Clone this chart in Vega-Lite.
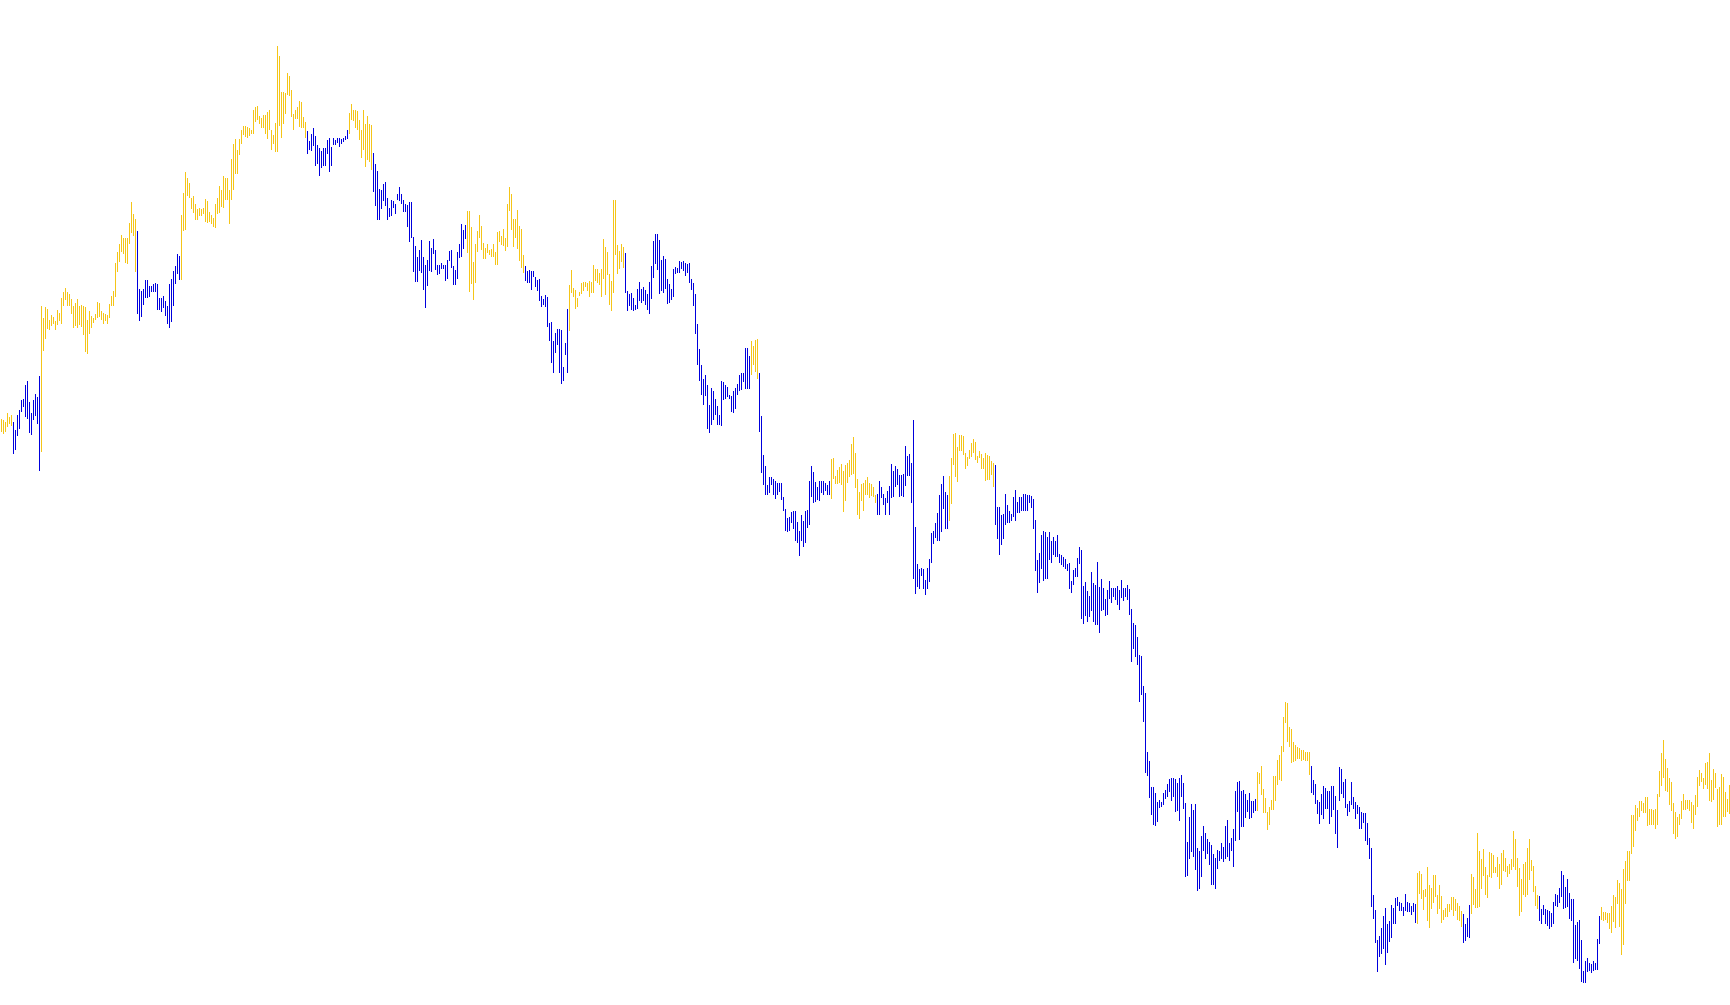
{"$schema":"https://vega.github.io/schema/vega-lite/v6.json","width":1730,"height":1005,"autosize":{"type":"fit","contains":"padding"},"padding":0,"background":"white","config":{"view":{"stroke":null}},
"data":{"values":[
{"i":0,"h":586,"l":573,"t":"u"},{"i":1,"h":585,"l":571,"t":"u"},{"i":2,"h":583,"l":573,"t":"u"},{"i":3,"h":592,"l":578,"t":"u"},{"i":4,"h":588,"l":581,"t":"u"},{"i":5,"h":590,"l":579,"t":"u"},{"i":6,"h":583,"l":551,"t":"d"},{"i":7,"h":575,"l":555,"t":"d"},{"i":8,"h":590,"l":569,"t":"d"},{"i":9,"h":595,"l":576,"t":"d"},
{"i":10,"h":605,"l":593,"t":"d"},{"i":11,"h":606,"l":598,"t":"d"},{"i":12,"h":620,"l":588,"t":"d"},{"i":13,"h":624,"l":586,"t":"d"},{"i":14,"h":603,"l":572,"t":"d"},{"i":15,"h":592,"l":570,"t":"d"},{"i":16,"h":605,"l":585,"t":"d"},{"i":17,"h":611,"l":589,"t":"d"},{"i":18,"h":608,"l":581,"t":"d"},{"i":19,"h":629,"l":534,"t":"d"},
{"i":20,"h":699,"l":553,"t":"u"},{"i":21,"h":687,"l":654,"t":"u"},{"i":22,"h":698,"l":666,"t":"u"},{"i":23,"h":696,"l":676,"t":"u"},{"i":24,"h":685,"l":675,"t":"u"},{"i":25,"h":690,"l":679,"t":"u"},{"i":26,"h":688,"l":681,"t":"u"},{"i":27,"h":684,"l":675,"t":"u"},{"i":28,"h":695,"l":680,"t":"u"},{"i":29,"h":692,"l":684,"t":"u"},
{"i":30,"h":707,"l":681,"t":"u"},{"i":31,"h":713,"l":699,"t":"u"},{"i":32,"h":717,"l":705,"t":"u"},{"i":33,"h":713,"l":699,"t":"u"},{"i":34,"h":711,"l":699,"t":"u"},{"i":35,"h":706,"l":691,"t":"u"},{"i":36,"h":699,"l":677,"t":"u"},{"i":37,"h":702,"l":679,"t":"u"},{"i":38,"h":706,"l":677,"t":"u"},{"i":39,"h":699,"l":680,"t":"u"},
{"i":40,"h":700,"l":678,"t":"u"},{"i":41,"h":699,"l":670,"t":"u"},{"i":42,"h":698,"l":653,"t":"u"},{"i":43,"h":685,"l":651,"t":"u"},{"i":44,"h":694,"l":671,"t":"u"},{"i":45,"h":689,"l":677,"t":"u"},{"i":46,"h":687,"l":682,"t":"u"},{"i":47,"h":691,"l":685,"t":"u"},{"i":48,"h":703,"l":687,"t":"u"},{"i":49,"h":702,"l":688,"t":"u"},
{"i":50,"h":694,"l":685,"t":"u"},{"i":51,"h":692,"l":681,"t":"u"},{"i":52,"h":691,"l":684,"t":"u"},{"i":53,"h":690,"l":681,"t":"u"},{"i":54,"h":701,"l":687,"t":"u"},{"i":55,"h":709,"l":699,"t":"u"},{"i":56,"h":714,"l":699,"t":"u"},{"i":57,"h":742,"l":708,"t":"u"},{"i":58,"h":753,"l":733,"t":"u"},{"i":59,"h":761,"l":743,"t":"u"},
{"i":60,"h":770,"l":753,"t":"u"},{"i":61,"h":767,"l":751,"t":"u"},{"i":62,"h":767,"l":742,"t":"u"},{"i":63,"h":767,"l":741,"t":"u"},{"i":64,"h":782,"l":761,"t":"u"},{"i":65,"h":803,"l":772,"t":"u"},{"i":66,"h":791,"l":769,"t":"u"},{"i":67,"h":786,"l":733,"t":"u"},{"i":68,"h":774,"l":691,"t":"d"},{"i":69,"h":716,"l":684,"t":"d"},
{"i":70,"h":714,"l":688,"t":"d"},{"i":71,"h":716,"l":700,"t":"d"},{"i":72,"h":725,"l":707,"t":"d"},{"i":73,"h":725,"l":707,"t":"d"},{"i":74,"h":719,"l":708,"t":"d"},{"i":75,"h":719,"l":713,"t":"d"},{"i":76,"h":721,"l":713,"t":"d"},{"i":77,"h":722,"l":713,"t":"d"},{"i":78,"h":721,"l":695,"t":"d"},{"i":79,"h":707,"l":695,"t":"d"},
{"i":80,"h":707,"l":693,"t":"d"},{"i":81,"h":709,"l":697,"t":"d"},{"i":82,"h":704,"l":689,"t":"d"},{"i":83,"h":699,"l":681,"t":"d"},{"i":84,"h":721,"l":677,"t":"d"},{"i":85,"h":726,"l":683,"t":"d"},{"i":86,"h":734,"l":699,"t":"d"},{"i":87,"h":739,"l":721,"t":"d"},{"i":88,"h":751,"l":731,"t":"d"},{"i":89,"h":749,"l":725,"t":"d"},
{"i":90,"h":790,"l":725,"t":"u"},{"i":91,"h":812,"l":774,"t":"u"},{"i":92,"h":833,"l":775,"t":"u"},{"i":93,"h":827,"l":809,"t":"u"},{"i":94,"h":822,"l":807,"t":"u"},{"i":95,"h":807,"l":796,"t":"u"},{"i":96,"h":809,"l":792,"t":"u"},{"i":97,"h":801,"l":785,"t":"u"},{"i":98,"h":796,"l":785,"t":"u"},{"i":99,"h":797,"l":789,"t":"u"},
{"i":100,"h":796,"l":789,"t":"u"},{"i":101,"h":797,"l":791,"t":"u"},{"i":102,"h":806,"l":783,"t":"u"},{"i":103,"h":804,"l":782,"t":"u"},{"i":104,"h":793,"l":783,"t":"u"},{"i":105,"h":790,"l":781,"t":"u"},{"i":106,"h":787,"l":778,"t":"u"},{"i":107,"h":801,"l":777,"t":"u"},{"i":108,"h":807,"l":791,"t":"u"},{"i":109,"h":819,"l":792,"t":"u"},
{"i":110,"h":815,"l":798,"t":"u"},{"i":111,"h":829,"l":797,"t":"u"},{"i":112,"h":827,"l":805,"t":"u"},{"i":113,"h":827,"l":805,"t":"u"},{"i":114,"h":815,"l":781,"t":"u"},{"i":115,"h":846,"l":805,"t":"u"},{"i":116,"h":861,"l":815,"t":"u"},{"i":117,"h":866,"l":831,"t":"u"},{"i":118,"h":855,"l":831,"t":"u"},{"i":119,"h":866,"l":850,"t":"u"},
{"i":120,"h":875,"l":861,"t":"u"},{"i":121,"h":879,"l":870,"t":"u"},{"i":122,"h":879,"l":868,"t":"u"},{"i":123,"h":878,"l":867,"t":"u"},{"i":124,"h":877,"l":869,"t":"u"},{"i":125,"h":875,"l":871,"t":"u"},{"i":126,"h":895,"l":871,"t":"u"},{"i":127,"h":898,"l":883,"t":"u"},{"i":128,"h":899,"l":885,"t":"u"},{"i":129,"h":889,"l":881,"t":"u"},
{"i":130,"h":887,"l":877,"t":"u"},{"i":131,"h":890,"l":877,"t":"u"},{"i":132,"h":890,"l":871,"t":"u"},{"i":133,"h":893,"l":866,"t":"u"},{"i":134,"h":895,"l":875,"t":"u"},{"i":135,"h":875,"l":855,"t":"u"},{"i":136,"h":870,"l":861,"t":"u"},{"i":137,"h":882,"l":853,"t":"u"},{"i":138,"h":959,"l":853,"t":"u"},{"i":139,"h":949,"l":879,"t":"u"},
{"i":140,"h":913,"l":867,"t":"u"},{"i":141,"h":913,"l":881,"t":"u"},{"i":142,"h":912,"l":891,"t":"u"},{"i":143,"h":932,"l":910,"t":"u"},{"i":144,"h":929,"l":909,"t":"u"},{"i":145,"h":915,"l":888,"t":"u"},{"i":146,"h":891,"l":875,"t":"u"},{"i":147,"h":895,"l":886,"t":"u"},{"i":148,"h":898,"l":886,"t":"u"},{"i":149,"h":904,"l":878,"t":"u"},
{"i":150,"h":903,"l":877,"t":"u"},{"i":151,"h":888,"l":877,"t":"u"},{"i":152,"h":883,"l":867,"t":"u"},{"i":153,"h":874,"l":851,"t":"d"},{"i":154,"h":864,"l":855,"t":"d"},{"i":155,"h":871,"l":854,"t":"d"},{"i":156,"h":877,"l":859,"t":"d"},{"i":157,"h":869,"l":839,"t":"d"},{"i":158,"h":860,"l":841,"t":"d"},{"i":159,"h":857,"l":829,"t":"d"},
{"i":160,"h":854,"l":837,"t":"d"},{"i":161,"h":857,"l":839,"t":"d"},{"i":162,"h":857,"l":839,"t":"d"},{"i":163,"h":865,"l":851,"t":"d"},{"i":164,"h":867,"l":833,"t":"d"},{"i":165,"h":858,"l":839,"t":"d"},{"i":166,"h":867,"l":860,"t":"d"},{"i":167,"h":865,"l":860,"t":"d"},{"i":168,"h":867,"l":862,"t":"d"},{"i":169,"h":867,"l":858,"t":"d"},
{"i":170,"h":866,"l":861,"t":"d"},{"i":171,"h":867,"l":863,"t":"d"},{"i":172,"h":869,"l":865,"t":"d"},{"i":173,"h":875,"l":866,"t":"d"},{"i":174,"h":892,"l":871,"t":"u"},{"i":175,"h":901,"l":885,"t":"u"},{"i":176,"h":895,"l":884,"t":"u"},{"i":177,"h":895,"l":877,"t":"u"},{"i":178,"h":894,"l":875,"t":"u"},{"i":179,"h":885,"l":865,"t":"u"},
{"i":180,"h":875,"l":847,"t":"u"},{"i":181,"h":895,"l":855,"t":"u"},{"i":182,"h":881,"l":838,"t":"u"},{"i":183,"h":889,"l":845,"t":"u"},{"i":184,"h":881,"l":843,"t":"u"},{"i":185,"h":880,"l":835,"t":"u"},{"i":186,"h":852,"l":813,"t":"d"},{"i":187,"h":841,"l":799,"t":"d"},{"i":188,"h":834,"l":785,"t":"d"},{"i":189,"h":816,"l":785,"t":"d"},
{"i":190,"h":815,"l":796,"t":"d"},{"i":191,"h":821,"l":804,"t":"d"},{"i":192,"h":823,"l":799,"t":"d"},{"i":193,"h":807,"l":785,"t":"d"},{"i":194,"h":797,"l":788,"t":"d"},{"i":195,"h":805,"l":789,"t":"d"},{"i":196,"h":804,"l":797,"t":"d"},{"i":197,"h":801,"l":791,"t":"d"},{"i":198,"h":811,"l":805,"t":"d"},{"i":199,"h":818,"l":804,"t":"d"},
{"i":200,"h":811,"l":801,"t":"d"},{"i":201,"h":805,"l":793,"t":"d"},{"i":202,"h":801,"l":793,"t":"d"},{"i":203,"h":800,"l":778,"t":"d"},{"i":204,"h":803,"l":763,"t":"d"},{"i":205,"h":803,"l":767,"t":"d"},{"i":206,"h":768,"l":733,"t":"d"},{"i":207,"h":759,"l":723,"t":"d"},{"i":208,"h":748,"l":723,"t":"d"},{"i":209,"h":755,"l":734,"t":"d"},
{"i":210,"h":765,"l":732,"t":"d"},{"i":211,"h":748,"l":715,"t":"d"},{"i":212,"h":740,"l":697,"t":"d"},{"i":213,"h":745,"l":719,"t":"d"},{"i":214,"h":764,"l":734,"t":"d"},{"i":215,"h":757,"l":733,"t":"d"},{"i":216,"h":766,"l":751,"t":"d"},{"i":217,"h":755,"l":735,"t":"d"},{"i":218,"h":740,"l":730,"t":"d"},{"i":219,"h":740,"l":731,"t":"d"},
{"i":220,"h":742,"l":736,"t":"d"},{"i":221,"h":740,"l":736,"t":"d"},{"i":222,"h":740,"l":724,"t":"d"},{"i":223,"h":745,"l":726,"t":"d"},{"i":224,"h":754,"l":744,"t":"d"},{"i":225,"h":755,"l":737,"t":"d"},{"i":226,"h":739,"l":720,"t":"d"},{"i":227,"h":735,"l":720,"t":"d"},{"i":228,"h":753,"l":726,"t":"d"},{"i":229,"h":761,"l":747,"t":"d"},
{"i":230,"h":781,"l":748,"t":"d"},{"i":231,"h":775,"l":756,"t":"d"},{"i":232,"h":780,"l":766,"t":"d"},{"i":233,"h":794,"l":752,"t":"u"},{"i":234,"h":794,"l":713,"t":"u"},{"i":235,"h":778,"l":721,"t":"u"},{"i":236,"h":743,"l":705,"t":"u"},{"i":237,"h":761,"l":722,"t":"u"},{"i":238,"h":774,"l":753,"t":"u"},{"i":239,"h":790,"l":767,"t":"u"},
{"i":240,"h":779,"l":755,"t":"u"},{"i":241,"h":762,"l":746,"t":"u"},{"i":242,"h":757,"l":746,"t":"u"},{"i":243,"h":761,"l":752,"t":"u"},{"i":244,"h":755,"l":750,"t":"u"},{"i":245,"h":756,"l":748,"t":"u"},{"i":246,"h":761,"l":748,"t":"u"},{"i":247,"h":753,"l":740,"t":"u"},{"i":248,"h":773,"l":740,"t":"u"},{"i":249,"h":774,"l":763,"t":"u"},
{"i":250,"h":769,"l":760,"t":"u"},{"i":251,"h":776,"l":759,"t":"u"},{"i":252,"h":767,"l":754,"t":"u"},{"i":253,"h":801,"l":758,"t":"u"},{"i":254,"h":818,"l":794,"t":"u"},{"i":255,"h":811,"l":775,"t":"u"},{"i":256,"h":786,"l":758,"t":"u"},{"i":257,"h":786,"l":767,"t":"u"},{"i":258,"h":795,"l":756,"t":"u"},{"i":259,"h":779,"l":744,"t":"u"},
{"i":260,"h":776,"l":737,"t":"u"},{"i":261,"h":750,"l":732,"t":"u"},{"i":262,"h":739,"l":724,"t":"d"},{"i":263,"h":734,"l":722,"t":"d"},{"i":264,"h":735,"l":722,"t":"d"},{"i":265,"h":734,"l":715,"t":"d"},{"i":266,"h":734,"l":728,"t":"d"},{"i":267,"h":728,"l":718,"t":"d"},{"i":268,"h":725,"l":714,"t":"d"},{"i":269,"h":726,"l":704,"t":"d"},
{"i":270,"h":709,"l":698,"t":"d"},{"i":271,"h":706,"l":700,"t":"d"},{"i":272,"h":710,"l":698,"t":"d"},{"i":273,"h":708,"l":678,"t":"d"},{"i":274,"h":682,"l":664,"t":"d"},{"i":275,"h":683,"l":642,"t":"d"},{"i":276,"h":664,"l":632,"t":"d"},{"i":277,"h":672,"l":652,"t":"d"},{"i":278,"h":676,"l":660,"t":"d"},{"i":279,"h":676,"l":632,"t":"d"},
{"i":280,"h":675,"l":621,"t":"d"},{"i":281,"h":638,"l":624,"t":"d"},{"i":282,"h":662,"l":650,"t":"d"},{"i":283,"h":696,"l":632,"t":"d"},{"i":284,"h":720,"l":674,"t":"u"},{"i":285,"h":735,"l":712,"t":"u"},{"i":286,"h":717,"l":708,"t":"u"},{"i":287,"h":715,"l":696,"t":"u"},{"i":288,"h":707,"l":698,"t":"u"},{"i":289,"h":713,"l":709,"t":"u"},
{"i":290,"h":722,"l":711,"t":"u"},{"i":291,"h":723,"l":714,"t":"u"},{"i":292,"h":723,"l":718,"t":"u"},{"i":293,"h":722,"l":714,"t":"u"},{"i":294,"h":724,"l":708,"t":"u"},{"i":295,"h":723,"l":712,"t":"u"},{"i":296,"h":740,"l":712,"t":"u"},{"i":297,"h":736,"l":724,"t":"u"},{"i":298,"h":736,"l":722,"t":"u"},{"i":299,"h":732,"l":720,"t":"u"},
{"i":300,"h":736,"l":708,"t":"u"},{"i":301,"h":766,"l":726,"t":"u"},{"i":302,"h":758,"l":710,"t":"u"},{"i":303,"h":753,"l":730,"t":"u"},{"i":304,"h":731,"l":700,"t":"u"},{"i":305,"h":724,"l":694,"t":"u"},{"i":306,"h":805,"l":712,"t":"u"},{"i":307,"h":805,"l":750,"t":"u"},{"i":308,"h":760,"l":731,"t":"u"},{"i":309,"h":754,"l":736,"t":"u"},
{"i":310,"h":761,"l":743,"t":"u"},{"i":311,"h":758,"l":737,"t":"u"},{"i":312,"h":752,"l":712,"t":"d"},{"i":313,"h":714,"l":694,"t":"d"},{"i":314,"h":711,"l":699,"t":"d"},{"i":315,"h":712,"l":695,"t":"d"},{"i":316,"h":707,"l":694,"t":"d"},{"i":317,"h":700,"l":695,"t":"d"},{"i":318,"h":716,"l":696,"t":"d"},{"i":319,"h":723,"l":704,"t":"d"},
{"i":320,"h":716,"l":702,"t":"d"},{"i":321,"h":718,"l":704,"t":"d"},{"i":322,"h":715,"l":700,"t":"d"},{"i":323,"h":711,"l":695,"t":"d"},{"i":324,"h":723,"l":691,"t":"d"},{"i":325,"h":739,"l":706,"t":"d"},{"i":326,"h":764,"l":727,"t":"d"},{"i":327,"h":771,"l":741,"t":"d"},{"i":328,"h":771,"l":735,"t":"d"},{"i":329,"h":765,"l":711,"t":"d"},
{"i":330,"h":745,"l":714,"t":"d"},{"i":331,"h":749,"l":712,"t":"d"},{"i":332,"h":746,"l":716,"t":"d"},{"i":333,"h":726,"l":701,"t":"d"},{"i":334,"h":721,"l":702,"t":"d"},{"i":335,"h":716,"l":705,"t":"d"},{"i":336,"h":736,"l":708,"t":"d"},{"i":337,"h":738,"l":731,"t":"d"},{"i":338,"h":737,"l":732,"t":"d"},{"i":339,"h":744,"l":732,"t":"d"},
{"i":340,"h":743,"l":736,"t":"d"},{"i":341,"h":744,"l":734,"t":"d"},{"i":342,"h":742,"l":729,"t":"d"},{"i":343,"h":741,"l":732,"t":"d"},{"i":344,"h":742,"l":722,"t":"d"},{"i":345,"h":726,"l":715,"t":"d"},{"i":346,"h":722,"l":699,"t":"d"},{"i":347,"h":711,"l":671,"t":"d"},{"i":348,"h":681,"l":640,"t":"d"},{"i":349,"h":656,"l":624,"t":"d"},
{"i":350,"h":640,"l":610,"t":"d"},{"i":351,"h":626,"l":600,"t":"d"},{"i":352,"h":630,"l":609,"t":"d"},{"i":353,"h":620,"l":576,"t":"d"},{"i":354,"h":600,"l":572,"t":"d"},{"i":355,"h":617,"l":580,"t":"d"},{"i":356,"h":614,"l":585,"t":"d"},{"i":357,"h":606,"l":590,"t":"d"},{"i":358,"h":599,"l":580,"t":"d"},{"i":359,"h":590,"l":580,"t":"d"},
{"i":360,"h":624,"l":579,"t":"d"},{"i":361,"h":623,"l":605,"t":"d"},{"i":362,"h":620,"l":606,"t":"d"},{"i":363,"h":618,"l":608,"t":"d"},{"i":364,"h":610,"l":606,"t":"d"},{"i":365,"h":609,"l":593,"t":"d"},{"i":366,"h":614,"l":592,"t":"d"},{"i":367,"h":617,"l":596,"t":"d"},{"i":368,"h":621,"l":610,"t":"d"},{"i":369,"h":630,"l":614,"t":"d"},
{"i":370,"h":632,"l":615,"t":"d"},{"i":371,"h":632,"l":623,"t":"d"},{"i":372,"h":657,"l":616,"t":"d"},{"i":373,"h":657,"l":616,"t":"d"},{"i":374,"h":649,"l":616,"t":"d"},{"i":375,"h":664,"l":630,"t":"u"},{"i":376,"h":659,"l":640,"t":"u"},{"i":377,"h":665,"l":633,"t":"u"},{"i":378,"h":666,"l":626,"t":"u"},{"i":379,"h":632,"l":573,"t":"d"},
{"i":380,"h":589,"l":532,"t":"d"},{"i":381,"h":550,"l":520,"t":"d"},{"i":382,"h":539,"l":510,"t":"d"},{"i":383,"h":520,"l":510,"t":"d"},{"i":384,"h":528,"l":512,"t":"d"},{"i":385,"h":528,"l":520,"t":"d"},{"i":386,"h":526,"l":510,"t":"d"},{"i":387,"h":524,"l":506,"t":"d"},{"i":388,"h":522,"l":510,"t":"d"},{"i":389,"h":522,"l":513,"t":"d"},
{"i":390,"h":522,"l":505,"t":"d"},{"i":391,"h":508,"l":494,"t":"d"},{"i":392,"h":496,"l":474,"t":"d"},{"i":393,"h":487,"l":473,"t":"d"},{"i":394,"h":488,"l":474,"t":"d"},{"i":395,"h":493,"l":482,"t":"d"},{"i":396,"h":494,"l":476,"t":"d"},{"i":397,"h":494,"l":464,"t":"d"},{"i":398,"h":483,"l":462,"t":"d"},{"i":399,"h":474,"l":449,"t":"d"},
{"i":400,"h":490,"l":464,"t":"d"},{"i":401,"h":484,"l":458,"t":"d"},{"i":402,"h":494,"l":462,"t":"d"},{"i":403,"h":495,"l":477,"t":"d"},{"i":404,"h":524,"l":480,"t":"d"},{"i":405,"h":539,"l":508,"t":"d"},{"i":406,"h":533,"l":502,"t":"d"},{"i":407,"h":523,"l":503,"t":"d"},{"i":408,"h":518,"l":505,"t":"d"},{"i":409,"h":524,"l":504,"t":"d"},
{"i":410,"h":524,"l":512,"t":"d"},{"i":411,"h":524,"l":510,"t":"d"},{"i":412,"h":522,"l":514,"t":"d"},{"i":413,"h":520,"l":510,"t":"d"},{"i":414,"h":524,"l":510,"t":"d"},{"i":415,"h":546,"l":506,"t":"u"},{"i":416,"h":547,"l":526,"t":"u"},{"i":417,"h":529,"l":521,"t":"u"},{"i":418,"h":535,"l":521,"t":"u"},{"i":419,"h":538,"l":522,"t":"u"},
{"i":420,"h":541,"l":520,"t":"u"},{"i":421,"h":534,"l":493,"t":"u"},{"i":422,"h":540,"l":504,"t":"u"},{"i":423,"h":542,"l":522,"t":"u"},{"i":424,"h":545,"l":528,"t":"u"},{"i":425,"h":561,"l":530,"t":"u"},{"i":426,"h":568,"l":531,"t":"u"},{"i":427,"h":552,"l":517,"t":"u"},{"i":428,"h":526,"l":490,"t":"u"},{"i":429,"h":513,"l":486,"t":"u"},
{"i":430,"h":521,"l":504,"t":"u"},{"i":431,"h":522,"l":494,"t":"u"},{"i":432,"h":525,"l":510,"t":"u"},{"i":433,"h":528,"l":510,"t":"u"},{"i":434,"h":522,"l":507,"t":"u"},{"i":435,"h":521,"l":509,"t":"u"},{"i":436,"h":518,"l":508,"t":"u"},{"i":437,"h":510,"l":502,"t":"u"},{"i":438,"h":511,"l":490,"t":"d"},{"i":439,"h":524,"l":490,"t":"d"},
{"i":440,"h":518,"l":507,"t":"d"},{"i":441,"h":511,"l":500,"t":"d"},{"i":442,"h":507,"l":490,"t":"d"},{"i":443,"h":514,"l":502,"t":"d"},{"i":444,"h":519,"l":490,"t":"d"},{"i":445,"h":541,"l":507,"t":"d"},{"i":446,"h":534,"l":508,"t":"d"},{"i":447,"h":539,"l":518,"t":"d"},{"i":448,"h":536,"l":520,"t":"d"},{"i":449,"h":530,"l":508,"t":"d"},
{"i":450,"h":530,"l":509,"t":"d"},{"i":451,"h":531,"l":508,"t":"d"},{"i":452,"h":559,"l":519,"t":"d"},{"i":453,"h":549,"l":529,"t":"d"},{"i":454,"h":551,"l":529,"t":"d"},{"i":455,"h":542,"l":502,"t":"d"},{"i":456,"h":585,"l":426,"t":"d"},{"i":457,"h":478,"l":411,"t":"d"},{"i":458,"h":441,"l":418,"t":"d"},{"i":459,"h":436,"l":416,"t":"d"},
{"i":460,"h":437,"l":429,"t":"d"},{"i":461,"h":436,"l":416,"t":"d"},{"i":462,"h":425,"l":410,"t":"d"},{"i":463,"h":437,"l":416,"t":"d"},{"i":464,"h":446,"l":423,"t":"d"},{"i":465,"h":472,"l":442,"t":"d"},{"i":466,"h":474,"l":461,"t":"d"},{"i":467,"h":482,"l":467,"t":"d"},{"i":468,"h":492,"l":464,"t":"d"},{"i":469,"h":510,"l":464,"t":"d"},
{"i":470,"h":521,"l":473,"t":"d"},{"i":471,"h":529,"l":496,"t":"d"},{"i":472,"h":513,"l":476,"t":"d"},{"i":473,"h":510,"l":476,"t":"d"},{"i":474,"h":529,"l":484,"t":"u"},{"i":475,"h":547,"l":501,"t":"u"},{"i":476,"h":571,"l":540,"t":"u"},{"i":477,"h":572,"l":528,"t":"u"},{"i":478,"h":558,"l":523,"t":"u"},{"i":479,"h":570,"l":554,"t":"u"},
{"i":480,"h":570,"l":554,"t":"u"},{"i":481,"h":569,"l":550,"t":"u"},{"i":482,"h":552,"l":536,"t":"u"},{"i":483,"h":548,"l":539,"t":"u"},{"i":484,"h":555,"l":546,"t":"u"},{"i":485,"h":562,"l":548,"t":"u"},{"i":486,"h":566,"l":552,"t":"u"},{"i":487,"h":563,"l":545,"t":"u"},{"i":488,"h":549,"l":542,"t":"u"},{"i":489,"h":554,"l":547,"t":"u"},
{"i":490,"h":551,"l":536,"t":"u"},{"i":491,"h":547,"l":536,"t":"u"},{"i":492,"h":552,"l":524,"t":"u"},{"i":493,"h":550,"l":525,"t":"u"},{"i":494,"h":549,"l":525,"t":"u"},{"i":495,"h":544,"l":530,"t":"u"},{"i":496,"h":542,"l":518,"t":"u"},{"i":497,"h":540,"l":480,"t":"d"},{"i":498,"h":498,"l":466,"t":"d"},{"i":499,"h":498,"l":450,"t":"d"},
{"i":500,"h":490,"l":460,"t":"d"},{"i":501,"h":491,"l":466,"t":"d"},{"i":502,"h":511,"l":480,"t":"d"},{"i":503,"h":500,"l":482,"t":"d"},{"i":504,"h":494,"l":482,"t":"d"},{"i":505,"h":491,"l":484,"t":"d"},{"i":506,"h":508,"l":488,"t":"d"},{"i":507,"h":515,"l":484,"t":"d"},{"i":508,"h":503,"l":492,"t":"d"},{"i":509,"h":508,"l":492,"t":"d"},
{"i":510,"h":508,"l":494,"t":"d"},{"i":511,"h":511,"l":494,"t":"d"},{"i":512,"h":511,"l":494,"t":"d"},{"i":513,"h":510,"l":494,"t":"d"},{"i":514,"h":510,"l":502,"t":"d"},{"i":515,"h":509,"l":497,"t":"d"},{"i":516,"h":506,"l":476,"t":"d"},{"i":517,"h":485,"l":434,"t":"d"},{"i":518,"h":445,"l":412,"t":"d"},{"i":519,"h":452,"l":422,"t":"d"},
{"i":520,"h":470,"l":436,"t":"d"},{"i":521,"h":474,"l":424,"t":"d"},{"i":522,"h":473,"l":426,"t":"d"},{"i":523,"h":468,"l":426,"t":"d"},{"i":524,"h":473,"l":445,"t":"d"},{"i":525,"h":464,"l":442,"t":"d"},{"i":526,"h":468,"l":450,"t":"d"},{"i":527,"h":464,"l":448,"t":"d"},{"i":528,"h":470,"l":448,"t":"d"},{"i":529,"h":451,"l":442,"t":"d"},
{"i":530,"h":450,"l":440,"t":"d"},{"i":531,"h":448,"l":438,"t":"d"},{"i":532,"h":446,"l":436,"t":"d"},{"i":533,"h":441,"l":434,"t":"d"},{"i":534,"h":442,"l":416,"t":"d"},{"i":535,"h":424,"l":412,"t":"d"},{"i":536,"h":435,"l":420,"t":"d"},{"i":537,"h":437,"l":428,"t":"d"},{"i":538,"h":447,"l":428,"t":"d"},{"i":539,"h":458,"l":441,"t":"d"},
{"i":540,"h":455,"l":386,"t":"d"},{"i":541,"h":419,"l":381,"t":"d"},{"i":542,"h":423,"l":389,"t":"d"},{"i":543,"h":414,"l":383,"t":"d"},{"i":544,"h":409,"l":388,"t":"d"},{"i":545,"h":433,"l":394,"t":"d"},{"i":546,"h":422,"l":383,"t":"d"},{"i":547,"h":420,"l":380,"t":"d"},{"i":548,"h":443,"l":380,"t":"d"},{"i":549,"h":418,"l":372,"t":"d"},
{"i":550,"h":426,"l":394,"t":"d"},{"i":551,"h":417,"l":395,"t":"d"},{"i":552,"h":406,"l":389,"t":"d"},{"i":553,"h":415,"l":390,"t":"d"},{"i":554,"h":424,"l":406,"t":"d"},{"i":555,"h":417,"l":402,"t":"d"},{"i":556,"h":417,"l":408,"t":"d"},{"i":557,"h":417,"l":405,"t":"d"},{"i":558,"h":419,"l":400,"t":"d"},{"i":559,"h":415,"l":395,"t":"d"},
{"i":560,"h":425,"l":407,"t":"d"},{"i":561,"h":417,"l":404,"t":"d"},{"i":562,"h":417,"l":408,"t":"d"},{"i":563,"h":420,"l":405,"t":"d"},{"i":564,"h":416,"l":390,"t":"d"},{"i":565,"h":396,"l":343,"t":"d"},{"i":566,"h":382,"l":356,"t":"d"},{"i":567,"h":380,"l":348,"t":"d"},{"i":568,"h":368,"l":340,"t":"d"},{"i":569,"h":350,"l":303,"t":"d"},
{"i":570,"h":349,"l":310,"t":"d"},{"i":571,"h":319,"l":283,"t":"d"},{"i":572,"h":312,"l":232,"t":"d"},{"i":573,"h":253,"l":229,"t":"d"},{"i":574,"h":244,"l":207,"t":"d"},{"i":575,"h":218,"l":190,"t":"d"},{"i":576,"h":218,"l":180,"t":"d"},{"i":577,"h":212,"l":179,"t":"d"},{"i":578,"h":203,"l":183,"t":"d"},{"i":579,"h":205,"l":197,"t":"d"},
{"i":580,"h":203,"l":198,"t":"d"},{"i":581,"h":212,"l":200,"t":"d"},{"i":582,"h":215,"l":206,"t":"d"},{"i":583,"h":221,"l":208,"t":"d"},{"i":584,"h":226,"l":213,"t":"d"},{"i":585,"h":227,"l":204,"t":"d"},{"i":586,"h":227,"l":208,"t":"d"},{"i":587,"h":226,"l":193,"t":"d"},{"i":588,"h":222,"l":194,"t":"d"},{"i":589,"h":227,"l":184,"t":"d"},
{"i":590,"h":230,"l":208,"t":"d"},{"i":591,"h":222,"l":196,"t":"d"},{"i":592,"h":202,"l":128,"t":"d"},{"i":593,"h":163,"l":129,"t":"d"},{"i":594,"h":188,"l":146,"t":"d"},{"i":595,"h":201,"l":153,"t":"d"},{"i":596,"h":195,"l":148,"t":"d"},{"i":597,"h":201,"l":135,"t":"d"},{"i":598,"h":157,"l":114,"t":"d"},{"i":599,"h":154,"l":116,"t":"d"},
{"i":600,"h":169,"l":128,"t":"d"},{"i":601,"h":179,"l":154,"t":"d"},{"i":602,"h":172,"l":146,"t":"d"},{"i":603,"h":166,"l":151,"t":"d"},{"i":604,"h":163,"l":140,"t":"d"},{"i":605,"h":160,"l":120,"t":"d"},{"i":606,"h":151,"l":120,"t":"d"},{"i":607,"h":147,"l":116,"t":"d"},{"i":608,"h":155,"l":136,"t":"d"},{"i":609,"h":154,"l":144,"t":"d"},
{"i":610,"h":162,"l":146,"t":"d"},{"i":611,"h":158,"l":143,"t":"d"},{"i":612,"h":179,"l":146,"t":"d"},{"i":613,"h":185,"l":148,"t":"d"},{"i":614,"h":162,"l":144,"t":"d"},{"i":615,"h":167,"l":154,"t":"d"},{"i":616,"h":176,"l":138,"t":"d"},{"i":617,"h":214,"l":164,"t":"d"},{"i":618,"h":223,"l":193,"t":"d"},{"i":619,"h":224,"l":165,"t":"d"},
{"i":620,"h":214,"l":178,"t":"d"},{"i":621,"h":215,"l":178,"t":"d"},{"i":622,"h":211,"l":187,"t":"d"},{"i":623,"h":205,"l":193,"t":"d"},{"i":624,"h":212,"l":186,"t":"d"},{"i":625,"h":204,"l":187,"t":"d"},{"i":626,"h":204,"l":192,"t":"d"},{"i":627,"h":206,"l":194,"t":"d"},{"i":628,"h":233,"l":194,"t":"u"},{"i":629,"h":232,"l":221,"t":"u"},
{"i":630,"h":239,"l":210,"t":"u"},{"i":631,"h":216,"l":192,"t":"u"},{"i":632,"h":207,"l":192,"t":"u"},{"i":633,"h":193,"l":175,"t":"u"},{"i":634,"h":198,"l":180,"t":"u"},{"i":635,"h":205,"l":195,"t":"u"},{"i":636,"h":229,"l":195,"t":"u"},{"i":637,"h":229,"l":204,"t":"u"},{"i":638,"h":245,"l":220,"t":"u"},{"i":639,"h":250,"l":225,"t":"u"},
{"i":640,"h":259,"l":224,"t":"u"},{"i":641,"h":288,"l":253,"t":"u"},{"i":642,"h":303,"l":282,"t":"u"},{"i":643,"h":302,"l":263,"t":"u"},{"i":644,"h":278,"l":258,"t":"u"},{"i":645,"h":276,"l":242,"t":"u"},{"i":646,"h":263,"l":243,"t":"u"},{"i":647,"h":260,"l":244,"t":"u"},{"i":648,"h":258,"l":246,"t":"u"},{"i":649,"h":257,"l":246,"t":"u"},
{"i":650,"h":255,"l":244,"t":"u"},{"i":651,"h":255,"l":245,"t":"u"},{"i":652,"h":253,"l":244,"t":"u"},{"i":653,"h":253,"l":244,"t":"u"},{"i":654,"h":253,"l":230,"t":"u"},{"i":655,"h":239,"l":212,"t":"d"},{"i":656,"h":225,"l":210,"t":"d"},{"i":657,"h":221,"l":201,"t":"d"},{"i":658,"h":205,"l":191,"t":"d"},{"i":659,"h":203,"l":181,"t":"d"},
{"i":660,"h":211,"l":190,"t":"d"},{"i":661,"h":219,"l":186,"t":"d"},{"i":662,"h":217,"l":196,"t":"d"},{"i":663,"h":214,"l":196,"t":"d"},{"i":664,"h":214,"l":181,"t":"d"},{"i":665,"h":219,"l":188,"t":"d"},{"i":666,"h":219,"l":195,"t":"d"},{"i":667,"h":209,"l":171,"t":"d"},{"i":668,"h":195,"l":157,"t":"d"},{"i":669,"h":238,"l":204,"t":"d"},
{"i":670,"h":236,"l":211,"t":"d"},{"i":671,"h":223,"l":207,"t":"d"},{"i":672,"h":226,"l":197,"t":"d"},{"i":673,"h":201,"l":189,"t":"d"},{"i":674,"h":204,"l":193,"t":"d"},{"i":675,"h":223,"l":200,"t":"d"},{"i":676,"h":208,"l":196,"t":"d"},{"i":677,"h":203,"l":186,"t":"d"},{"i":678,"h":200,"l":191,"t":"d"},{"i":679,"h":198,"l":176,"t":"d"},
{"i":680,"h":193,"l":176,"t":"d"},{"i":681,"h":192,"l":182,"t":"d"},{"i":682,"h":192,"l":164,"t":"d"},{"i":683,"h":182,"l":160,"t":"d"},{"i":684,"h":167,"l":146,"t":"d"},{"i":685,"h":157,"l":98,"t":"d"},{"i":686,"h":110,"l":86,"t":"d"},{"i":687,"h":95,"l":62,"t":"d"},{"i":688,"h":65,"l":33,"t":"d"},{"i":689,"h":69,"l":48,"t":"d"},
{"i":690,"h":77,"l":51,"t":"d"},{"i":691,"h":89,"l":56,"t":"d"},{"i":692,"h":97,"l":40,"t":"d"},{"i":693,"h":81,"l":52,"t":"d"},{"i":694,"h":84,"l":63,"t":"d"},{"i":695,"h":100,"l":67,"t":"d"},{"i":696,"h":97,"l":81,"t":"d"},{"i":697,"h":107,"l":81,"t":"d"},{"i":698,"h":108,"l":99,"t":"d"},{"i":699,"h":103,"l":94,"t":"d"},
{"i":700,"h":102,"l":94,"t":"d"},{"i":701,"h":98,"l":89,"t":"d"},{"i":702,"h":111,"l":94,"t":"d"},{"i":703,"h":103,"l":93,"t":"d"},{"i":704,"h":102,"l":93,"t":"d"},{"i":705,"h":99,"l":90,"t":"d"},{"i":706,"h":102,"l":93,"t":"d"},{"i":707,"h":101,"l":82,"t":"d"},{"i":708,"h":132,"l":81,"t":"u"},{"i":709,"h":134,"l":111,"t":"u"},
{"i":710,"h":131,"l":106,"t":"u"},{"i":711,"h":115,"l":95,"t":"u"},{"i":712,"h":116,"l":108,"t":"u"},{"i":713,"h":138,"l":84,"t":"u"},{"i":714,"h":120,"l":77,"t":"u"},{"i":715,"h":117,"l":96,"t":"u"},{"i":716,"h":130,"l":102,"t":"u"},{"i":717,"h":130,"l":108,"t":"u"},{"i":718,"h":110,"l":91,"t":"u"},{"i":719,"h":120,"l":96,"t":"u"},
{"i":720,"h":109,"l":82,"t":"u"},{"i":721,"h":95,"l":85,"t":"u"},{"i":722,"h":97,"l":88,"t":"u"},{"i":723,"h":101,"l":88,"t":"u"},{"i":724,"h":101,"l":93,"t":"u"},{"i":725,"h":108,"l":95,"t":"u"},{"i":726,"h":108,"l":89,"t":"u"},{"i":727,"h":106,"l":94,"t":"u"},{"i":728,"h":102,"l":85,"t":"u"},{"i":729,"h":99,"l":84,"t":"u"},
{"i":730,"h":94,"l":78,"t":"u"},{"i":731,"h":91,"l":62,"t":"d"},{"i":732,"h":81,"l":64,"t":"d"},{"i":733,"h":87,"l":68,"t":"d"},{"i":734,"h":100,"l":67,"t":"d"},{"i":735,"h":131,"l":91,"t":"u"},{"i":736,"h":128,"l":100,"t":"u"},{"i":737,"h":116,"l":97,"t":"u"},{"i":738,"h":172,"l":97,"t":"u"},{"i":739,"h":154,"l":98,"t":"u"},
{"i":740,"h":146,"l":116,"t":"u"},{"i":741,"h":156,"l":129,"t":"u"},{"i":742,"h":138,"l":110,"t":"u"},{"i":743,"h":130,"l":107,"t":"u"},{"i":744,"h":153,"l":128,"t":"u"},{"i":745,"h":152,"l":127,"t":"u"},{"i":746,"h":150,"l":132,"t":"u"},{"i":747,"h":138,"l":132,"t":"u"},{"i":748,"h":148,"l":128,"t":"u"},{"i":749,"h":141,"l":116,"t":"u"},
{"i":750,"h":152,"l":120,"t":"u"},{"i":751,"h":155,"l":134,"t":"u"},{"i":752,"h":147,"l":133,"t":"u"},{"i":753,"h":139,"l":128,"t":"u"},{"i":754,"h":141,"l":131,"t":"u"},{"i":755,"h":146,"l":135,"t":"u"},{"i":756,"h":174,"l":138,"t":"u"},{"i":757,"h":166,"l":135,"t":"u"},{"i":758,"h":147,"l":118,"t":"u"},{"i":759,"h":137,"l":89,"t":"u"},
{"i":760,"h":126,"l":93,"t":"u"},{"i":761,"h":141,"l":110,"t":"u"},{"i":762,"h":143,"l":108,"t":"u"},{"i":763,"h":157,"l":110,"t":"u"},{"i":764,"h":166,"l":125,"t":"u"},{"i":765,"h":145,"l":134,"t":"u"},{"i":766,"h":139,"l":113,"t":"u"},{"i":767,"h":119,"l":99,"t":"u"},{"i":768,"h":110,"l":96,"t":"u"},{"i":769,"h":109,"l":84,"t":"d"},
{"i":770,"h":96,"l":81,"t":"d"},{"i":771,"h":100,"l":90,"t":"d"},{"i":772,"h":96,"l":81,"t":"d"},{"i":773,"h":95,"l":79,"t":"d"},{"i":774,"h":94,"l":76,"t":"d"},{"i":775,"h":92,"l":78,"t":"d"},{"i":776,"h":103,"l":81,"t":"d"},{"i":777,"h":111,"l":99,"t":"d"},{"i":778,"h":110,"l":98,"t":"d"},{"i":779,"h":117,"l":102,"t":"d"},
{"i":780,"h":134,"l":108,"t":"d"},{"i":781,"h":130,"l":96,"t":"d"},{"i":782,"h":118,"l":97,"t":"d"},{"i":783,"h":126,"l":98,"t":"d"},{"i":784,"h":112,"l":86,"t":"d"},{"i":785,"h":106,"l":84,"t":"d"},{"i":786,"h":106,"l":42,"t":"d"},{"i":787,"h":80,"l":46,"t":"d"},{"i":788,"h":83,"l":44,"t":"d"},{"i":789,"h":85,"l":36,"t":"d"},
{"i":790,"h":65,"l":23,"t":"d"},{"i":791,"h":34,"l":22,"t":"d"},{"i":792,"h":44,"l":22,"t":"d"},{"i":793,"h":47,"l":33,"t":"d"},{"i":794,"h":42,"l":34,"t":"d"},{"i":795,"h":41,"l":32,"t":"d"},{"i":796,"h":44,"l":34,"t":"d"},{"i":797,"h":42,"l":35,"t":"d"},{"i":798,"h":66,"l":35,"t":"d"},{"i":799,"h":89,"l":61,"t":"d"},
{"i":800,"h":98,"l":85,"t":"u"},{"i":801,"h":93,"l":84,"t":"u"},{"i":802,"h":93,"l":85,"t":"u"},{"i":803,"h":92,"l":82,"t":"u"},{"i":804,"h":92,"l":76,"t":"u"},{"i":805,"h":99,"l":72,"t":"u"},{"i":806,"h":110,"l":83,"t":"u"},{"i":807,"h":108,"l":77,"t":"u"},{"i":808,"h":125,"l":101,"t":"u"},{"i":809,"h":122,"l":78,"t":"u"},
{"i":810,"h":116,"l":50,"t":"u"},{"i":811,"h":136,"l":60,"t":"u"},{"i":812,"h":144,"l":101,"t":"u"},{"i":813,"h":154,"l":124,"t":"u"},{"i":814,"h":154,"l":124,"t":"u"},{"i":815,"h":190,"l":151,"t":"u"},{"i":816,"h":190,"l":158,"t":"u"},{"i":817,"h":200,"l":174,"t":"u"},{"i":818,"h":197,"l":184,"t":"u"},{"i":819,"h":204,"l":188,"t":"u"},
{"i":820,"h":204,"l":194,"t":"u"},{"i":821,"h":202,"l":192,"t":"u"},{"i":822,"h":208,"l":192,"t":"u"},{"i":823,"h":208,"l":179,"t":"u"},{"i":824,"h":196,"l":180,"t":"u"},{"i":825,"h":196,"l":180,"t":"u"},{"i":826,"h":195,"l":180,"t":"u"},{"i":827,"h":196,"l":176,"t":"u"},{"i":828,"h":211,"l":180,"t":"u"},{"i":829,"h":234,"l":208,"t":"u"},
{"i":830,"h":252,"l":219,"t":"u"},{"i":831,"h":265,"l":227,"t":"u"},{"i":832,"h":246,"l":214,"t":"u"},{"i":833,"h":237,"l":213,"t":"u"},{"i":834,"h":227,"l":200,"t":"u"},{"i":835,"h":223,"l":194,"t":"u"},{"i":836,"h":202,"l":171,"t":"u"},{"i":837,"h":193,"l":166,"t":"u"},{"i":838,"h":188,"l":168,"t":"u"},{"i":839,"h":191,"l":180,"t":"u"},
{"i":840,"h":204,"l":186,"t":"u"},{"i":841,"h":211,"l":195,"t":"u"},{"i":842,"h":205,"l":195,"t":"u"},{"i":843,"h":205,"l":196,"t":"u"},{"i":844,"h":205,"l":194,"t":"u"},{"i":845,"h":203,"l":182,"t":"u"},{"i":846,"h":200,"l":176,"t":"u"},{"i":847,"h":210,"l":190,"t":"u"},{"i":848,"h":228,"l":198,"t":"u"},{"i":849,"h":235,"l":219,"t":"u"},
{"i":850,"h":232,"l":223,"t":"u"},{"i":851,"h":227,"l":216,"t":"u"},{"i":852,"h":242,"l":220,"t":"u"},{"i":853,"h":243,"l":216,"t":"u"},{"i":854,"h":252,"l":204,"t":"u"},{"i":855,"h":225,"l":203,"t":"u"},{"i":856,"h":236,"l":205,"t":"u"},{"i":857,"h":232,"l":217,"t":"u"},{"i":858,"h":216,"l":178,"t":"u"},{"i":859,"h":218,"l":180,"t":"u"},
{"i":860,"h":231,"l":180,"t":"u"},{"i":861,"h":228,"l":188,"t":"u"},{"i":862,"h":213,"l":188,"t":"u"},{"i":863,"h":206,"l":193,"t":"u"},{"i":864,"h":220,"l":191,"t":"u"}
]},
"mark":{"type":"rule","strokeWidth":1},
"encoding":{
"x":{"field":"i","type":"quantitative","scale":{"domain":[-0.75,864.25],"nice":false,"zero":false},"axis":null},
"y":{"field":"h","type":"quantitative","scale":{"domain":[0,1005],"nice":false,"zero":false},"axis":null},
"y2":{"field":"l"},
"color":{"field":"t","type":"nominal","scale":{"domain":["u","d"],"range":["#f5c518","#0000dd"]},"legend":null}
}}
